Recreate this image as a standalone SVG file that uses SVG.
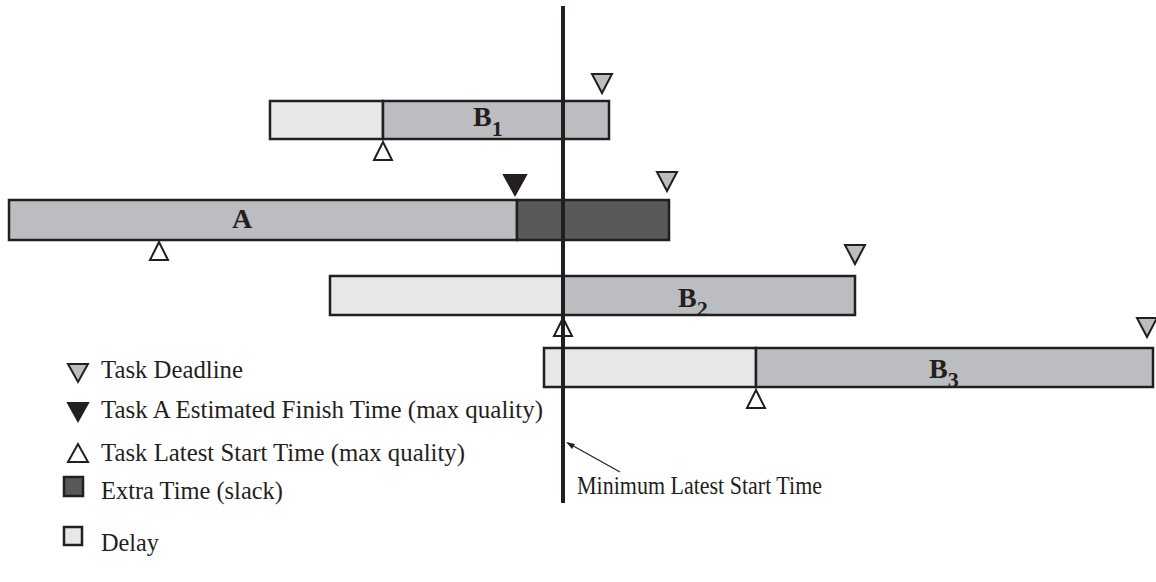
<svg xmlns="http://www.w3.org/2000/svg" width="1156" height="582" viewBox="0 0 1156 582">
<style>
.bar{stroke:#231f20;stroke-width:2.5}
.task{fill:#bcbdc0}
.delay{fill:#e6e7e8}
.slack{fill:#58595b}
.tri{stroke:#231f20;stroke-width:2;stroke-linejoin:miter}
.dl{fill:#bcbdc0}
.ef{fill:#231f20}
.ls{fill:#ffffff}
.lbl{font-family:"Liberation Serif","Times New Roman",serif;font-weight:bold;font-size:28px;fill:#231f20}
.sub{font-size:22px}
.leg{font-family:"Liberation Serif","Times New Roman",serif;font-size:24.5px;fill:#231f20}
</style>
<g id="taskB1">
<rect class="bar delay" x="270" y="101" width="113" height="38"/>
<rect class="bar task" x="383" y="101" width="226" height="38"/>
<text class="lbl" x="473" y="126">B<tspan class="sub" dy="10">1</tspan></text>
<polygon class="tri dl" points="592,74 612,74 602,93"/>
<polygon class="tri ls" points="383,142 374,160 392,160"/>
</g>
<g id="taskA">
<rect class="bar task" x="9" y="200" width="508" height="40"/>
<rect class="bar slack" x="517" y="200" width="152" height="40"/>
<text class="lbl" x="232" y="228">A</text>
<polygon class="tri ef" points="504,175 526,175 515,195"/>
<polygon class="tri dl" points="657,172 677,172 667,191"/>
<polygon class="tri ls" points="159,242 150,260 168,260"/>
</g>
<g id="taskB2">
<rect class="bar delay" x="330" y="276" width="233" height="39"/>
<rect class="bar task" x="563" y="276" width="292" height="39"/>
<text class="lbl" x="678" y="307">B<tspan class="sub" dy="9">2</tspan></text>
<polygon class="tri dl" points="845,245 865,245 855,264"/>
<polygon class="tri ls" points="563,318 554,336 572,336"/>
</g>
<g id="taskB3">
<rect class="bar delay" x="544" y="348" width="212" height="39"/>
<rect class="bar task" x="756" y="348" width="397" height="39"/>
<text class="lbl" x="929" y="378">B<tspan class="sub" dy="9">3</tspan></text>
<polygon class="tri dl" points="1137,318 1157,318 1147,337"/>
<polygon class="tri ls" points="756,390 747,408 765,408"/>
</g>
<g id="connectors">
<line x1="563" y1="6" x2="563" y2="503" stroke="#231f20" stroke-width="4"/>
<line x1="620" y1="472" x2="568" y2="443" stroke="#231f20" stroke-width="1.2"/>
<polygon points="566,442 575,444 572,449" fill="#231f20"/>
</g>
<g id="minLabel">
<text class="leg" x="577" y="494" textLength="245" lengthAdjust="spacingAndGlyphs">Minimum Latest Start Time</text>
</g>
<g id="legend">
<polygon class="tri dl" points="68,364 88,364 78,382"/>
<text class="leg" x="101" y="378" textLength="142" lengthAdjust="spacingAndGlyphs">Task Deadline</text>
<polygon class="tri ef" points="68,403 88,403 78,421"/>
<text class="leg" x="101" y="418" textLength="442" lengthAdjust="spacingAndGlyphs">Task A Estimated Finish Time (max quality)</text>
<polygon class="tri ls" points="78,444 68,462 88,462"/>
<text class="leg" x="101" y="461" textLength="364" lengthAdjust="spacingAndGlyphs">Task Latest Start Time (max quality)</text>
<rect class="bar slack" x="64" y="477" width="19" height="19"/>
<text class="leg" x="101" y="499" textLength="182" lengthAdjust="spacingAndGlyphs">Extra Time (slack)</text>
<rect class="bar delay" x="64" y="527" width="18" height="18"/>
<text class="leg" x="101" y="551" textLength="58" lengthAdjust="spacingAndGlyphs">Delay</text>
</g>
</svg>
